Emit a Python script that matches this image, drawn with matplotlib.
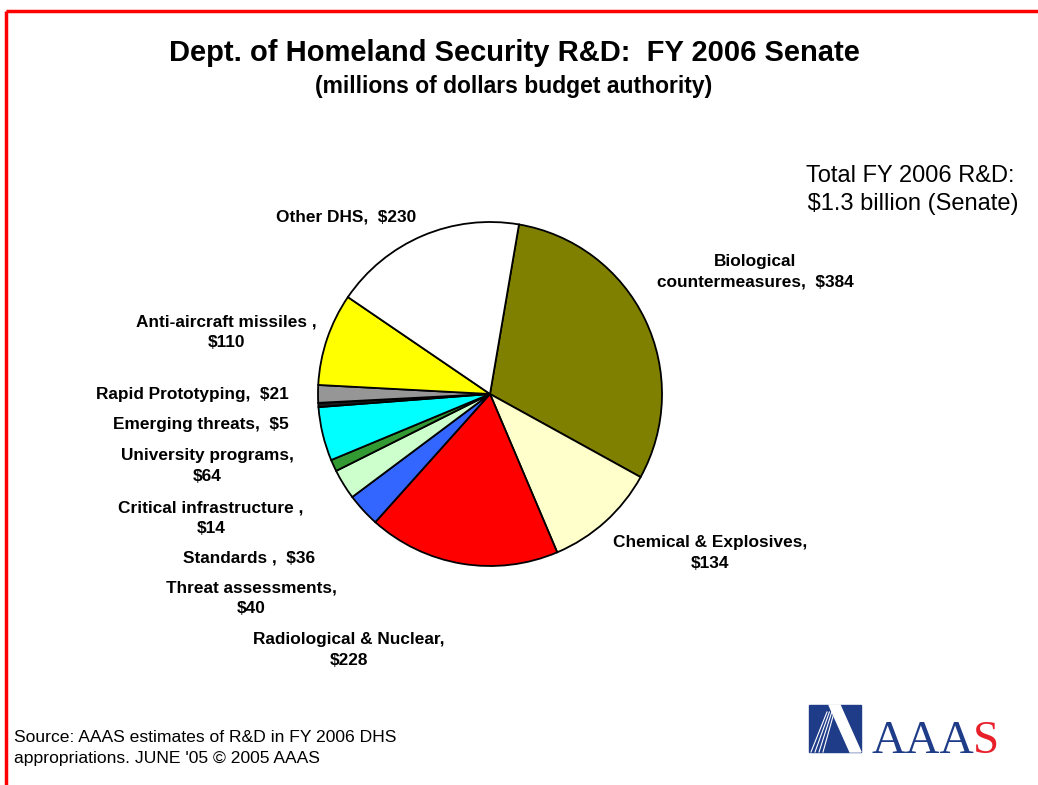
import matplotlib.pyplot as plt
from matplotlib.patches import Rectangle, Polygon

plt.rcParams['font.family'] = ['Liberation Sans', 'DejaVu Sans']

# slices, clockwise from the top
names = ['Biological\ncountermeasures,  ', 'Chemical & Explosives,\n', 'Radiological & Nuclear,\n',
         'Threat assessments,\n', 'Standards ,  ', 'Critical infrastructure ,\n',
         'University programs,\n', 'Emerging threats,  ', 'Rapid Prototyping,  ',
         'Anti-aircraft missiles ,\n', 'Other DHS,  ']
values = [384, 134, 228, 40, 36, 14, 64, 5, 21, 110, 230]
colors = ['#808000', '#FFFFCC', '#FF0000', '#3366FF', '#CCFFCC', '#339933',
          '#00FFFF', '#1a1a1a', '#969696', '#FFFF00', '#FFFFFF']
# label centres in pixels (x, y from top)
label_pos = [(755, 272), (710, 553), (349, 650), (251, 598), (249, 558), (211, 518),
             (207, 466), (201, 425), (192, 395), (226, 332), (346, 217)]

W, H = 1038, 785
fig = plt.figure(figsize=(W / 100, H / 100), dpi=100)
ax = fig.add_axes([0, 0, 1, 1])

ax.pie(values, colors=colors, startangle=80.3, counterclock=False,
       center=(490, H - 394), radius=172,
       wedgeprops=dict(edgecolor='black', linewidth=1.3))
ax.set_xlim(0, W)
ax.set_ylim(0, H)
ax.set_aspect('auto')
ax.axis('off')

for n, v, (x, y) in zip(names, values, label_pos):
    ax.text(x, H - y, f'{n}${v}', ha='center', va='center', fontsize=12.4,
            fontweight='bold', linespacing=1.45)

# titles
ax.text(514, H - 53, 'Dept. of Homeland Security R&D:  FY 2006 Senate', ha='center',
        va='center', fontsize=21, fontweight='bold')
ax.text(514, H - 86, '(millions of dollars budget authority)', ha='center',
        va='center', fontsize=16.5, fontweight='bold')
ax.text(910, H - 190, 'Total FY 2006 R&D:\n $1.3 billion (Senate)', ha='center',
        va='center', fontsize=17, linespacing=1.35)
ax.text(14, H - 748, "Source: AAAS estimates of R&D in FY 2006 DHS\nappropriations. JUNE '05 \u00a9 2005 AAAS",
        ha='left', va='center', fontsize=12.6, linespacing=1.45)

# red frame
ax.plot([6, W], [H - 11, H - 11], color='red', lw=2.5, solid_capstyle='butt')
ax.plot([6, 6], [H - 11, 0], color='red', lw=2.5, solid_capstyle='butt')

# AAAS logo
blue = '#1f3c88'
ax.add_patch(Rectangle((809, H - 752), 52, 47, color=blue, zorder=3))
ax.add_patch(Polygon([(829, H - 705), (840, H - 705), (861, H - 752), (850, H - 752)],
                     closed=True, color='white', zorder=4))
for dx in (0, 4, 8, 12):
    ax.plot([811 + dx, 827 + dx * 0.6], [H - 752, H - 712], color='white', lw=0.8, zorder=4)
ax.text(872, H - 753, 'AAA', color=blue, fontsize=34, family='Liberation Serif',
        ha='left', va='baseline')
ax.text(973, H - 753, 'S', color='#e8202a', fontsize=34, family='Liberation Serif',
        ha='left', va='baseline')

fig.savefig('out.png', dpi=100)
